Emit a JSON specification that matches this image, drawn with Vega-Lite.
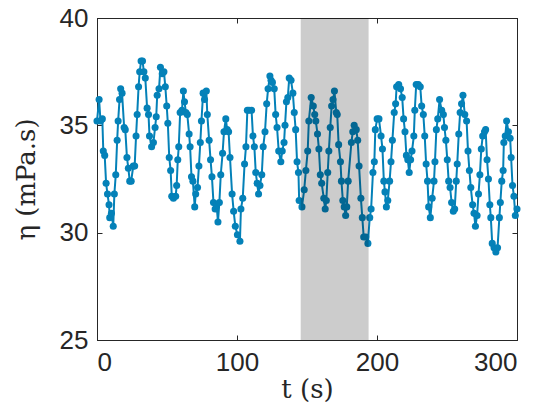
{
  "$schema": "https://vega.github.io/schema/vega-lite/v6.json",
  "autosize": "none",
  "width": 420,
  "height": 322,
  "padding": {"left": 97, "top": 18, "right": 32, "bottom": 72},
  "background": "white",
  "config": {
    "view": {"stroke": "#262626", "strokeWidth": 1},
    "axis": {
      "grid": false,
      "domainColor": "#262626",
      "domainWidth": 1,
      "tickColor": "#262626",
      "tickWidth": 1,
      "labelColor": "#262626",
      "labelFont": "Liberation Sans",
      "labelFontSize": 26,
      "titleColor": "#262626",
      "titleFont": "DejaVu Serif",
      "titleFontSize": 26,
      "titleFontWeight": "normal"
    }
  },
  "datasets": {
    "series": [
      {"t":0.0,"eta":35.2},{"t":1.5,"eta":36.2},{"t":2.5,"eta":35.2},{"t":3.8,"eta":35.3},{"t":4.5,"eta":33.8},{"t":5.5,"eta":33.6},{"t":6.5,"eta":32.3},{"t":7.5,"eta":31.8},{"t":8.6,"eta":31.3},{"t":9.1,"eta":30.7},
      {"t":10.3,"eta":30.9},{"t":11.6,"eta":30.3},{"t":12.4,"eta":31.8},{"t":13.4,"eta":32.7},{"t":14.4,"eta":34.3},{"t":15.1,"eta":35.2},{"t":16.1,"eta":36.2},{"t":16.9,"eta":36.7},{"t":17.9,"eta":36.5},{"t":19.4,"eta":34.9},
      {"t":20.2,"eta":34.8},{"t":21.4,"eta":33.5},{"t":22.4,"eta":33.0},{"t":23.4,"eta":32.4},{"t":24.4,"eta":32.4},{"t":25.9,"eta":33.1},{"t":26.9,"eta":33.1},{"t":27.9,"eta":34.5},{"t":28.7,"eta":35.5},{"t":29.7,"eta":36.8},
      {"t":30.5,"eta":37.5},{"t":31.5,"eta":38.0},{"t":32.5,"eta":38.0},{"t":33.5,"eta":37.5},{"t":34.5,"eta":37.2},{"t":35.8,"eta":35.8},{"t":36.8,"eta":35.5},{"t":37.5,"eta":34.5},{"t":39.0,"eta":34.0},{"t":40.3,"eta":34.2},
      {"t":41.5,"eta":34.9},{"t":42.3,"eta":35.4},{"t":43.0,"eta":36.4},{"t":44.3,"eta":36.7},{"t":45.3,"eta":37.7},{"t":46.6,"eta":37.4},{"t":47.8,"eta":37.5},{"t":48.8,"eta":36.8},{"t":49.8,"eta":35.9},{"t":50.6,"eta":35.1},
      {"t":51.6,"eta":33.5},{"t":52.6,"eta":32.9},{"t":53.4,"eta":31.7},{"t":54.6,"eta":31.6},{"t":56.2,"eta":31.7},{"t":56.9,"eta":32.2},{"t":57.7,"eta":33.4},{"t":58.4,"eta":34.0},{"t":59.4,"eta":35.6},{"t":60.7,"eta":35.7},
      {"t":61.7,"eta":36.6},{"t":62.5,"eta":36.1},{"t":63.5,"eta":35.6},{"t":64.5,"eta":35.5},{"t":65.8,"eta":34.6},{"t":66.5,"eta":34.0},{"t":67.5,"eta":32.6},{"t":68.5,"eta":32.4},{"t":69.8,"eta":31.2},{"t":70.5,"eta":31.8},
      {"t":71.8,"eta":32.1},{"t":72.8,"eta":33.1},{"t":73.8,"eta":34.2},{"t":74.6,"eta":35.2},{"t":75.8,"eta":36.5},{"t":76.8,"eta":36.2},{"t":78.1,"eta":36.6},{"t":78.8,"eta":35.5},{"t":80.1,"eta":34.3},{"t":81.1,"eta":33.4},
      {"t":82.1,"eta":32.6},{"t":83.2,"eta":31.4},{"t":84.4,"eta":31.1},{"t":85.4,"eta":31.3},{"t":86.4,"eta":30.5},{"t":87.4,"eta":31.4},{"t":88.4,"eta":32.7},{"t":89.7,"eta":33.7},{"t":90.7,"eta":34.7},{"t":92.0,"eta":35.3},
      {"t":93.0,"eta":34.8},{"t":94.0,"eta":34.7},{"t":95.0,"eta":33.5},{"t":96.5,"eta":31.8},{"t":97.6,"eta":31.0},{"t":98.8,"eta":30.3},{"t":100.3,"eta":29.9},{"t":102.1,"eta":29.6},{"t":102.8,"eta":31.1},{"t":104.1,"eta":31.6},
      {"t":105.4,"eta":33.2},{"t":106.4,"eta":34.0},{"t":107.4,"eta":35.7},{"t":108.6,"eta":35.7},{"t":110.4,"eta":35.7},{"t":111.4,"eta":34.5},{"t":112.4,"eta":34.0},{"t":113.4,"eta":32.8},{"t":114.4,"eta":32.3},{"t":115.4,"eta":31.8},
      {"t":116.4,"eta":32.2},{"t":117.7,"eta":32.7},{"t":118.7,"eta":34.0},{"t":120.0,"eta":34.7},{"t":121.2,"eta":36.0},{"t":122.2,"eta":36.7},{"t":123.5,"eta":37.3},{"t":124.3,"eta":37.1},{"t":125.3,"eta":37.0},{"t":126.6,"eta":36.7},
      {"t":127.6,"eta":35.5},{"t":128.6,"eta":34.9},{"t":129.8,"eta":33.8},{"t":131.3,"eta":33.3},{"t":132.3,"eta":33.8},{"t":133.6,"eta":34.2},{"t":134.3,"eta":35.0},{"t":135.3,"eta":36.1},{"t":136.3,"eta":36.3},{"t":137.3,"eta":37.2},
      {"t":138.6,"eta":37.1},{"t":139.9,"eta":36.5},{"t":140.9,"eta":35.6},{"t":141.9,"eta":34.8},{"t":142.9,"eta":33.3},{"t":143.9,"eta":32.8},{"t":144.4,"eta":31.5},{"t":146.4,"eta":31.2},{"t":148.0,"eta":32.0},{"t":149.2,"eta":32.9},
      {"t":150.5,"eta":33.8},{"t":151.3,"eta":35.2},{"t":153.0,"eta":36.3},{"t":154.5,"eta":35.9},{"t":155.5,"eta":35.5},{"t":156.3,"eta":35.2},{"t":157.5,"eta":34.6},{"t":158.5,"eta":33.9},{"t":159.5,"eta":32.7},{"t":160.5,"eta":32.3},
      {"t":162.0,"eta":31.6},{"t":163.0,"eta":31.1},{"t":163.8,"eta":31.5},{"t":164.8,"eta":32.8},{"t":165.6,"eta":33.8},{"t":166.6,"eta":34.9},{"t":167.6,"eta":35.9},{"t":168.6,"eta":36.2},{"t":169.6,"eta":36.6},{"t":170.9,"eta":35.6},
      {"t":171.6,"eta":35.5},{"t":172.6,"eta":34.1},{"t":173.9,"eta":33.3},{"t":174.6,"eta":32.4},{"t":175.6,"eta":31.5},{"t":176.6,"eta":31.2},{"t":177.6,"eta":30.8},{"t":178.4,"eta":31.2},{"t":179.4,"eta":32.4},{"t":181.7,"eta":34.2},
      {"t":182.7,"eta":34.7},{"t":183.7,"eta":35.0},{"t":185.2,"eta":34.8},{"t":186.2,"eta":34.3},{"t":187.2,"eta":33.1},{"t":188.5,"eta":31.6},{"t":189.5,"eta":30.7},{"t":190.5,"eta":29.8},{"t":192.0,"eta":29.8},{"t":193.5,"eta":29.5},
      {"t":194.8,"eta":30.7},{"t":195.8,"eta":31.1},{"t":197.1,"eta":32.8},{"t":198.1,"eta":33.3},{"t":198.8,"eta":34.8},{"t":200.1,"eta":35.3},{"t":201.4,"eta":35.3},{"t":202.9,"eta":34.5},{"t":203.9,"eta":33.9},{"t":204.9,"eta":32.4},
      {"t":205.7,"eta":31.9},{"t":206.7,"eta":31.2},{"t":207.7,"eta":31.5},{"t":209.0,"eta":32.4},{"t":210.0,"eta":33.3},{"t":211.0,"eta":34.3},{"t":212.3,"eta":35.6},{"t":213.3,"eta":36.0},{"t":214.0,"eta":36.8},{"t":215.5,"eta":36.9},
      {"t":216.8,"eta":36.7},{"t":218.0,"eta":36.3},{"t":219.0,"eta":35.3},{"t":220.0,"eta":34.7},{"t":221.0,"eta":33.6},{"t":222.0,"eta":33.4},{"t":223.0,"eta":32.8},{"t":224.0,"eta":33.4},{"t":225.0,"eta":33.8},{"t":226.3,"eta":34.5},
      {"t":227.0,"eta":35.7},{"t":228.0,"eta":36.9},{"t":229.5,"eta":36.9},{"t":230.9,"eta":36.8},{"t":231.9,"eta":35.9},{"t":233.1,"eta":35.5},{"t":234.1,"eta":34.5},{"t":235.1,"eta":33.2},{"t":236.1,"eta":32.4},{"t":236.9,"eta":31.2},
      {"t":238.1,"eta":30.7},{"t":239.4,"eta":31.6},{"t":240.7,"eta":32.4},{"t":241.4,"eta":33.3},{"t":242.4,"eta":34.8},{"t":243.4,"eta":35.3},{"t":244.7,"eta":36.2},{"t":246.2,"eta":35.7},{"t":247.4,"eta":35.5},{"t":248.2,"eta":34.9},
      {"t":249.2,"eta":34.3},{"t":250.2,"eta":33.4},{"t":251.2,"eta":32.4},{"t":252.2,"eta":32.1},{"t":253.3,"eta":31.4},{"t":254.5,"eta":31.0},{"t":255.5,"eta":31.1},{"t":256.6,"eta":32.4},{"t":257.3,"eta":33.2},{"t":258.4,"eta":34.6},
      {"t":259.4,"eta":35.6},{"t":260.4,"eta":36.0},{"t":261.4,"eta":36.4},{"t":262.7,"eta":35.5},{"t":264.0,"eta":35.2},{"t":265.0,"eta":33.8},{"t":266.0,"eta":32.9},{"t":267.0,"eta":32.1},{"t":268.3,"eta":31.3},{"t":269.3,"eta":30.9},
      {"t":270.3,"eta":30.3},{"t":271.5,"eta":30.8},{"t":272.5,"eta":31.8},{"t":273.5,"eta":32.7},{"t":274.5,"eta":33.9},{"t":275.5,"eta":34.5},{"t":276.8,"eta":34.7},{"t":277.6,"eta":34.8},{"t":278.6,"eta":33.4},{"t":279.6,"eta":32.5},
      {"t":280.6,"eta":31.3},{"t":281.3,"eta":30.7},{"t":282.3,"eta":29.5},{"t":283.6,"eta":29.3},{"t":284.9,"eta":29.1},{"t":286.1,"eta":29.3},{"t":287.4,"eta":30.7},{"t":288.1,"eta":31.4},{"t":289.1,"eta":32.4},{"t":290.1,"eta":32.9},
      {"t":290.6,"eta":34.2},{"t":291.6,"eta":34.5},{"t":292.6,"eta":35.2},{"t":293.9,"eta":34.7},{"t":295.1,"eta":34.4},{"t":295.8,"eta":33.5},{"t":296.8,"eta":32.2},{"t":297.8,"eta":31.7},{"t":298.8,"eta":30.8},{"t":300.0,"eta":31.1}
    ],
    "band": [{"start": 145.5, "end": 194.0}]
  },
  "layer": [
    {
      "data": {"name": "series"},
      "mark": {"type": "line", "color": "#0481b8", "strokeWidth": 2, "point": {"filled": true, "size": 50, "color": "#0481b8"}},
      "encoding": {
        "x": {"field": "t", "type": "quantitative", "scale": {"domain": [0, 300], "nice": false},
              "axis": {"values": [0, 100, 200, 300], "tickSize": -5, "labelPadding": 14, "title": "t (s)", "titlePadding": 1}},
        "y": {"field": "eta", "type": "quantitative", "scale": {"domain": [25, 40], "nice": false, "zero": false},
              "axis": {"values": [25, 30, 35, 40], "tickSize": -5, "labelPadding": 14, "title": "η (mPa.s)", "titlePadding": 20}}
      }
    },
    {
      "data": {"name": "band"},
      "mark": {"type": "rect", "color": "black", "opacity": 0.2},
      "encoding": {
        "x": {"field": "start", "type": "quantitative", "axis": {"orient": "top", "values": [0, 100, 200, 300], "tickSize": -5, "labels": false, "title": null}},
        "x2": {"field": "end"},
        "y": {"datum": 25, "type": "quantitative", "axis": {"orient": "right", "values": [25, 30, 35, 40], "tickSize": -5, "labels": false, "title": null}},
        "y2": {"datum": 40}
      }
    }
  ],
  "resolve": {"axis": {"x": "independent", "y": "independent"}}
}
